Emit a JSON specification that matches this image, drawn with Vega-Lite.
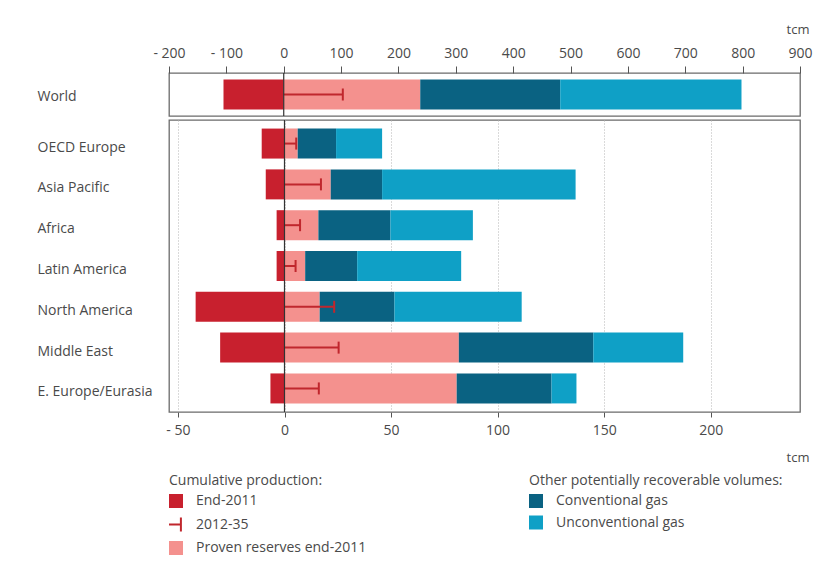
{
  "$schema": "https://vega.github.io/schema/vega-lite/v6.json",
  "padding": {"left": 36, "top": 22, "right": 10, "bottom": 5},
  "background": "white",
  "spacing": 0,
  "config": {
    "font": "Open Sans",
    "view": {"stroke": "#6b6b6b", "strokeWidth": 1.3},
    "axis": {"labelFont": "Open Sans", "labelFontSize": 14, "labelColor": "#4a4a4a", "titleFont": "Open Sans", "titleFontSize": 13, "titleFontWeight": "normal", "titleColor": "#4a4a4a", "domain": false, "labelFlush": false},
    "legend": {"labelFont": "Open Sans", "titleFont": "Open Sans", "labelLimit": 400, "titleLimit": 400}
  },
  "resolve": {"scale": {"color": "independent"}},
  "datasets": {
    "bars": [
      {"region": "World", "seg": "End-2011", "x0": -105, "x1": 0},
      {"region": "World", "seg": "Proven reserves end-2011", "x0": 0, "x1": 238},
      {"region": "World", "seg": "Conventional gas", "x0": 238, "x1": 482},
      {"region": "World", "seg": "Unconventional gas", "x0": 482, "x1": 798},
      {"region": "OECD Europe", "seg": "End-2011", "x0": -10.7, "x1": 0},
      {"region": "OECD Europe", "seg": "Proven reserves end-2011", "x0": 0, "x1": 6.2},
      {"region": "OECD Europe", "seg": "Conventional gas", "x0": 6.2, "x1": 24.2},
      {"region": "OECD Europe", "seg": "Unconventional gas", "x0": 24.2, "x1": 45.8},
      {"region": "Asia Pacific", "seg": "End-2011", "x0": -8.8, "x1": 0},
      {"region": "Asia Pacific", "seg": "Proven reserves end-2011", "x0": 0, "x1": 21.7},
      {"region": "Asia Pacific", "seg": "Conventional gas", "x0": 21.7, "x1": 45.8},
      {"region": "Asia Pacific", "seg": "Unconventional gas", "x0": 45.8, "x1": 136.6},
      {"region": "Africa", "seg": "End-2011", "x0": -3.7, "x1": 0},
      {"region": "Africa", "seg": "Proven reserves end-2011", "x0": 0, "x1": 15.9},
      {"region": "Africa", "seg": "Conventional gas", "x0": 15.9, "x1": 49.7},
      {"region": "Africa", "seg": "Unconventional gas", "x0": 49.7, "x1": 88.4},
      {"region": "Latin America", "seg": "End-2011", "x0": -3.7, "x1": 0},
      {"region": "Latin America", "seg": "Proven reserves end-2011", "x0": 0, "x1": 9.7},
      {"region": "Latin America", "seg": "Conventional gas", "x0": 9.7, "x1": 34.1},
      {"region": "Latin America", "seg": "Unconventional gas", "x0": 34.1, "x1": 82.9},
      {"region": "North America", "seg": "End-2011", "x0": -41.7, "x1": 0},
      {"region": "North America", "seg": "Proven reserves end-2011", "x0": 0, "x1": 16.5},
      {"region": "North America", "seg": "Conventional gas", "x0": 16.5, "x1": 51.6},
      {"region": "North America", "seg": "Unconventional gas", "x0": 51.6, "x1": 111.3},
      {"region": "Middle East", "seg": "End-2011", "x0": -30.2, "x1": 0},
      {"region": "Middle East", "seg": "Proven reserves end-2011", "x0": 0, "x1": 81.8},
      {"region": "Middle East", "seg": "Conventional gas", "x0": 81.8, "x1": 144.9},
      {"region": "Middle East", "seg": "Unconventional gas", "x0": 144.9, "x1": 187.1},
      {"region": "E. Europe/Eurasia", "seg": "End-2011", "x0": -6.6, "x1": 0},
      {"region": "E. Europe/Eurasia", "seg": "Proven reserves end-2011", "x0": 0, "x1": 80.8},
      {"region": "E. Europe/Eurasia", "seg": "Conventional gas", "x0": 80.8, "x1": 125.3},
      {"region": "E. Europe/Eurasia", "seg": "Unconventional gas", "x0": 125.3, "x1": 137}
    ],
    "whisk": [
      {"region": "World", "w": 103},
      {"region": "OECD Europe", "w": 5.5},
      {"region": "Asia Pacific", "w": 17.1},
      {"region": "Africa", "w": 7.3},
      {"region": "Latin America", "w": 5.2},
      {"region": "North America", "w": 23.3},
      {"region": "Middle East", "w": 25.4},
      {"region": "E. Europe/Eurasia", "w": 16.1}
    ]
  },
  "vconcat": [
    {
      "width": 631,
      "height": 43,
      "encoding": {
        "y": {"field": "region", "type": "nominal", "title": null,
          "scale": {"paddingInner": 0.265, "paddingOuter": 0.163},
          "axis": {"labelAlign": "left", "labelPadding": 132, "labelOffset": 2, "ticks": false, "domain": false}}
      },
      "layer": [
        {
          "data": {"name": "bars"},
          "transform": [{"filter": "datum.region === 'World'"}],
          "mark": {"type": "bar"},
          "encoding": {
            "x": {"field": "x0", "type": "quantitative",
              "scale": {"domain": [-200, 900], "nice": false, "zero": false},
              "axis": {"orient": "top", "title": "tcm", "titleAnchor": "end", "titleAlign": "right", "titleX": 640, "titlePadding": 10,
                "values": [-200, -100, 0, 100, 200, 300, 400, 500, 600, 700, 800, 900],
                "labelExpr": "datum.value < 0 ? '- ' + abs(datum.value) : datum.label",
                "tickSize": 7, "tickColor": "#555", "labelPadding": 6, "grid": false}},
            "x2": {"field": "x1"},
            "color": {"field": "seg", "type": "nominal", "legend": null,
              "scale": {"domain": ["End-2011", "Proven reserves end-2011", "Conventional gas", "Unconventional gas"],
                "range": ["#c8202e", "#f4918e", "#0a6282", "#0fa0c6"]}}
          }
        },
        {
          "data": {"name": "whisk"},
          "transform": [{"filter": "datum.region === 'World'"}],
          "mark": {"type": "rule", "color": "#c0272d", "strokeWidth": 2},
          "encoding": {"x": {"field": "w", "type": "quantitative"}, "x2": {"datum": 0}}
        },
        {
          "data": {"name": "whisk"},
          "transform": [{"filter": "datum.region === 'World'"}],
          "mark": {"type": "tick", "color": "#c0272d", "thickness": 2, "size": 12, "opacity": 1},
          "encoding": {"x": {"field": "w", "type": "quantitative"}}
        },
        {
          "data": {"name": "whisk"},
          "transform": [{"filter": "datum.region === 'World'"}],
          "mark": {"type": "rule", "color": "#333333", "strokeWidth": 1.2},
          "encoding": {"x": {"datum": 0}, "y": {"value": 0}, "y2": {"value": 43}}
        }
      ]
    },
    {
      "width": 631,
      "height": 292,
      "resolve": {"scale": {"color": "independent"}},
      "encoding": {
        "y": {"field": "region", "type": "nominal", "title": null,
          "sort": ["OECD Europe", "Asia Pacific", "Africa", "Latin America", "North America", "Middle East", "E. Europe/Eurasia"],
          "scale": {"paddingInner": 0.265, "paddingOuter": 0.21},
          "axis": {"labelAlign": "left", "labelPadding": 132, "labelOffset": 4, "ticks": false, "domain": false}}
      },
      "layer": [
        {
          "data": {"name": "bars"},
          "transform": [{"filter": "datum.region !== 'World' && (datum.seg === 'End-2011' || datum.seg === 'Proven reserves end-2011')"}],
          "mark": {"type": "bar"},
          "encoding": {
            "x": {"field": "x0", "type": "quantitative",
              "scale": {"domain": [-54.2, 241.9], "nice": false, "zero": false},
              "axis": {"orient": "bottom", "title": "tcm", "titleAnchor": "end", "titleAlign": "right", "titleX": 640, "titlePadding": 14,
                "values": [-50, 0, 50, 100, 150, 200],
                "labelExpr": "datum.value < 0 ? '- ' + abs(datum.value) : datum.label",
                "tickSize": 5, "tickColor": "#555", "labelPadding": 6,
                "grid": true, "gridDash": [1, 2], "gridColor": "#b5b5b5", "gridWidth": 1}},
            "x2": {"field": "x1"},
            "color": {"field": "seg", "type": "nominal",
              "scale": {"domain": ["End-2011", "2012-35", "Proven reserves end-2011"], "range": ["#c8202e", "#c0272d", "#f4918e"]},
              "legend": {"title": "Cumulative production:", "orient": "none", "legendX": 0, "legendY": 354,
                "direction": "vertical", "symbolType": "square", "symbolSize": 196,
                "labelFontSize": 14, "labelColor": "#4a4a4a", "labelOffset": 13,
                "titleFontSize": 14, "titleFontWeight": "normal", "titleColor": "#4a4a4a", "titlePadding": 6,
                "rowPadding": 8.5,
                "encode": {"symbols": {"update": {
                  "shape": {"signal": "datum.value === '2012-35' ? 'M-1,0H0.7M0.7,-1V1' : 'square'"},
                  "stroke": {"signal": "datum.value === '2012-35' ? '#c0272d' : null"},
                  "strokeWidth": {"signal": "datum.value === '2012-35' ? 2 : 0"},
                  "strokeJoin": {"value": "bevel"},
                  "strokeCap": {"value": "butt"}}}}}}
          }
        },
        {
          "data": {"name": "bars"},
          "transform": [{"filter": "datum.region !== 'World' && (datum.seg === 'Conventional gas' || datum.seg === 'Unconventional gas')"}],
          "mark": {"type": "bar"},
          "encoding": {
            "x": {"field": "x0", "type": "quantitative"},
            "x2": {"field": "x1"},
            "color": {"field": "seg", "type": "nominal",
              "scale": {"domain": ["Conventional gas", "Unconventional gas"], "range": ["#0a6282", "#0fa0c6"]},
              "legend": {"title": "Other potentially recoverable volumes:", "orient": "none", "legendX": 360, "legendY": 354,
                "direction": "vertical", "symbolType": "square", "symbolSize": 196, "symbolStrokeWidth": 0,
                "labelFontSize": 14, "labelColor": "#4a4a4a", "labelOffset": 13,
                "titleFontSize": 14, "titleFontWeight": "normal", "titleColor": "#4a4a4a", "titlePadding": 6,
                "rowPadding": 7.5}}
          }
        },
        {
          "data": {"name": "whisk"},
          "transform": [{"filter": "datum.region !== 'World'"}],
          "mark": {"type": "rule", "color": "#c0272d", "strokeWidth": 2},
          "encoding": {"x": {"field": "w", "type": "quantitative"}, "x2": {"datum": 0}}
        },
        {
          "data": {"name": "whisk"},
          "transform": [{"filter": "datum.region !== 'World'"}],
          "mark": {"type": "tick", "color": "#c0272d", "thickness": 2, "size": 12, "opacity": 1},
          "encoding": {"x": {"field": "w", "type": "quantitative"}}
        },
        {
          "data": {"name": "whisk"},
          "transform": [{"filter": "datum.region === 'World'"}],
          "mark": {"type": "rule", "color": "#333333", "strokeWidth": 1.2},
          "encoding": {"x": {"datum": 0}, "y": {"value": 0}, "y2": {"value": 292}}
        }
      ]
    }
  ]
}
